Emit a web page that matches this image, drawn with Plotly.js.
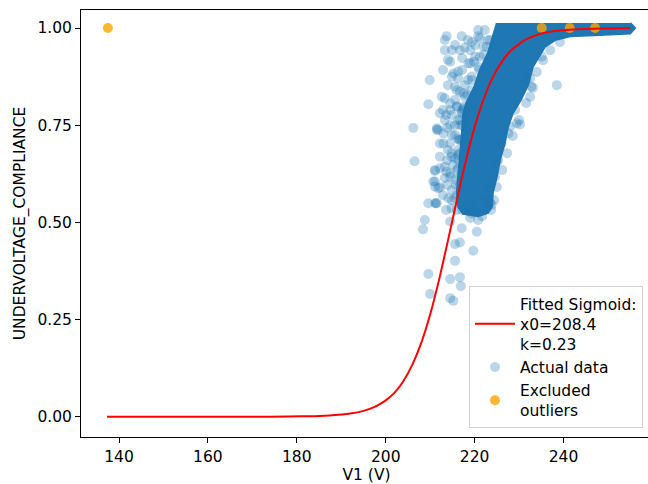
<!DOCTYPE html>
<html>
<head>
<meta charset="utf-8">
<script src="https://cdn.plot.ly/plotly-3.0.1.min.js"></script>
<style>html,body{margin:0;padding:0;overflow:hidden;background:#fff;}#chart{width:660px;height:484px;}</style>
</head>
<body>
<div id="chart"></div>
<script>
// Fitted sigmoid curve
const sigmoidX = [137.3, 150, 160, 170, 178, 184, 188, 192, 195, 198, 200, 202, 204, 206, 208, 210, 212, 214, 216, 218, 220, 222, 224, 226, 228, 231, 234, 238, 243, 249, 255];
const sigmoidY = [0, 0, 0, 0.0001, 0.0004, 0.0015, 0.0035, 0.008, 0.015, 0.028, 0.042, 0.062, 0.092, 0.134, 0.190, 0.263, 0.352, 0.453, 0.557, 0.657, 0.745, 0.816, 0.871, 0.911, 0.940, 0.967, 0.982, 0.992, 0.997, 0.999, 1.0];

// Outline of the saturated dense cloud of actual data
const coreX = [225.0, 224.1, 223.0, 221.2, 219.9, 218.1, 217.4, 217.2, 216.9, 216.7, 216.3, 216.0, 216.3, 217.4, 220.8, 223.0, 223.9, 224.1, 225.0, 225.7, 226.8, 227.5, 228.6, 230.4, 232.0, 233.1, 234.3, 235.8, 238.1, 241.5, 248.2, 255.0, 256.1, 255.0];
const coreY = [1.013, 0.977, 0.936, 0.892, 0.848, 0.807, 0.776, 0.738, 0.699, 0.660, 0.617, 0.576, 0.540, 0.522, 0.516, 0.524, 0.540, 0.576, 0.617, 0.660, 0.704, 0.745, 0.781, 0.815, 0.853, 0.900, 0.923, 0.951, 0.969, 0.979, 0.982, 0.986, 1.000, 1.013];

// Individually visible actual data points
const actualX = [213.7, 213.3, 217.1, 220.8, 209.9, 209.6, 206.2, 206.5, 238.5, 230.2, 213.3, 214.9, 216.3, 219.0, 221.2, 222.7, 216.0, 217.5, 216.0, 217.5,
  211.8, 213.0, 212.2, 214.8, 211.1, 210.7, 212.2, 213.3, 214.5, 216.7, 216.7, 216.3, 216.7, 232.5, 232.8, 232.5, 235.1, 228.0, 229.1, 231.7,
  225.0, 223.1, 215.6, 217.5, 209.6, 211.1, 208.8, 208.4, 214.5, 217.1, 219.3, 220.8, 220.5, 215.6, 216.7, 219.7, 215.6, 209.6, 214.5, 216.7,
  216.9, 210.0, 214.5, 215.2, 223.5, 211.1, 211.3, 211.5,
  223.0, 222.1, 221.0, 219.4, 218.3, 217.4, 216.7, 216.5, 216.3, 216.0, 215.8, 215.6, 216.0, 219.0, 221.7,
  239.2, 237.0, 235.4, 234.0, 233.1, 231.6, 230.0, 228.6, 227.3, 226.2, 225.0, 224.4, 223.7,
  214.0, 214.9, 220.1, 219.0, 213.6, 214.5, 214.9, 214.0, 213.8, 214.9, 213.3, 215.6, 214.5, 212.2, 218.5, 216.7, 220.8, 222.3,
  215.2, 216.3, 218.6, 220.1, 222.0, 223.5, 217.8, 219.3, 220.8, 212.6, 214.5, 216.0, 217.8, 219.3, 216.7, 215.6, 219.3, 217.1,
  211.5, 213.0, 212.2, 214.5, 216.3, 216.7, 214.8, 211.1, 212.2, 213.7, 214.5, 211.1, 211.8, 216.3, 217.8, 218.2, 216.3, 217.1,
  214.1, 211.5, 214.8, 222.3, 223.8, 220.1, 229.5, 227.6, 226.1, 225.3, 224.6,
  213.3, 215.6, 217.8, 219.4, 221.2, 214.5, 217.2, 219.9, 212.9, 214.0, 217.2, 218.5, 212.9, 214.9, 215.6, 213.8, 217.2, 215.6,
  213.8, 215.2, 217.2, 216.3, 213.3, 215.6, 216.7, 212.9, 214.9, 216.0, 217.2, 218.5, 213.6, 219.4];
const actualY = [0.979, 0.969, 0.979, 0.979, 0.866, 0.804, 0.743, 0.657, 0.853, 0.752, 0.819, 0.875, 0.888, 0.909, 0.926, 0.952, 0.840, 0.832, 0.798, 0.798,
  0.738, 0.703, 0.669, 0.669, 0.632, 0.605, 0.590, 0.643, 0.626, 0.763, 0.712, 0.660, 0.617, 0.871, 0.849, 0.823, 0.926, 0.746, 0.789, 0.866,
  0.656, 0.592, 0.665, 0.793, 0.549, 0.549, 0.506, 0.482, 0.502, 0.485, 0.523, 0.506, 0.476, 0.444, 0.448, 0.427, 0.401, 0.367, 0.354, 0.359,
  0.336, 0.316, 0.305, 0.298, 0.551, 0.592, 0.549, 0.742,
  0.969, 0.931, 0.892, 0.866, 0.828, 0.789, 0.750, 0.712, 0.673, 0.634, 0.596, 0.562, 0.532, 0.511, 0.516,
  0.964, 0.943, 0.917, 0.887, 0.846, 0.807, 0.763, 0.722, 0.678, 0.635, 0.591, 0.557, 0.532,
  0.918, 0.943, 0.956, 0.943, 0.776, 0.750, 0.725, 0.686, 0.596, 0.583, 0.763, 0.815, 0.789, 0.781, 0.969, 0.943, 0.995, 0.995,
  0.883, 0.871, 0.909, 0.926, 0.952, 0.969, 0.853, 0.875, 0.900, 0.823, 0.806, 0.798, 0.823, 0.840, 0.836, 0.849, 0.798, 0.785,
  0.738, 0.729, 0.703, 0.703, 0.716, 0.678, 0.678, 0.635, 0.639, 0.630, 0.617, 0.605, 0.588, 0.639, 0.699, 0.738, 0.763, 0.781,
  0.562, 0.549, 0.536, 0.557, 0.545, 0.532, 0.755, 0.729, 0.703, 0.660, 0.617,
  0.943, 0.956, 0.949, 0.964, 0.974, 0.913, 0.923, 0.913, 0.892, 0.853, 0.892, 0.866, 0.789, 0.776, 0.750, 0.743, 0.750, 0.725,
  0.660, 0.648, 0.712, 0.686, 0.614, 0.609, 0.596, 0.570, 0.557, 0.570, 0.532, 0.545, 0.532, 0.545];

// Excluded outliers
const outlierX = [137.5, 235.1, 241.4, 247.1];
const outlierY = [1.0, 1.0, 1.0, 1.0];

const yTicks = [0, 0.25, 0.5, 0.75, 1.0];
const xTicks = [140, 160, 180, 200, 220, 240];

const FONT = 'DejaVu Sans, sans-serif';
const FS = 15.5;

const traces = [
  {x: coreX, y: coreY, type: 'scatter', mode: 'lines', fill: 'toself', fillcolor: 'rgb(31,119,180)',
   line: {width: 2, color: 'rgb(31,119,180)'}, showlegend: false, hoverinfo: 'skip'},
  {x: actualX, y: actualY, type: 'scatter', mode: 'markers', name: 'Actual data', legendrank: 2, legendgroup: 'b',
   marker: {size: 10, color: 'rgba(31,119,180,0.3)', line: {width: 0}}},
  {x: outlierX, y: outlierY, type: 'scatter', mode: 'markers', name: 'Excluded<br>outliers', legendrank: 3, legendgroup: 'c',
   marker: {size: 10, color: 'rgba(255,165,0,0.8)', line: {width: 0}}},
  {x: sigmoidX, y: sigmoidY, type: 'scatter', mode: 'lines', name: 'Fitted Sigmoid:<br>x0=208.4<br>k=0.23', legendrank: 1, legendgroup: 'a',
   line: {color: 'red', width: 2, shape: 'spline', smoothing: 0.5}}
];

const layout = {
  width: 660, height: 484,
  margin: {l: 81, r: 8, t: 10, b: 47},
  paper_bgcolor: 'white', plot_bgcolor: 'white',
  font: {family: FONT, size: FS, color: '#000'},
  showlegend: true,
  legend: {x: 0.6795, y: 0.021, xanchor: 'left', yanchor: 'bottom', bgcolor: 'rgba(255,255,255,0.8)',
           bordercolor: '#d0d0d0', borderwidth: 1, font: {family: FONT, size: FS, color: '#000'},
           traceorder: 'grouped', tracegroupgap: 0, itemwidth: 40},
  xaxis: {range: [131.45, 259.91], tickvals: xTicks, ticktext: xTicks.map(String), ticks: 'outside', ticklen: 5,
          tickcolor: '#000', showgrid: false, zeroline: false, showline: true, mirror: true, linecolor: '#000', linewidth: 1,
          tickfont: {family: FONT, size: FS, color: '#000'},
          title: {text: 'V1 (V)', font: {family: FONT, size: FS, color: '#000'}, standoff: 19}},
  yaxis: {range: [-0.0522, 1.0463], tickvals: yTicks, ticktext: yTicks.map(v => v.toFixed(2)), ticks: 'outside', ticklen: 5,
          tickcolor: '#000', showgrid: false, zeroline: false, showline: true, mirror: true, linecolor: '#000', linewidth: 1,
          tickfont: {family: FONT, size: FS, color: '#000'},
          title: {text: 'UNDERVOLTAGE_COMPLIANCE', font: {family: FONT, size: FS, color: '#000'}, standoff: 7}}
};

Plotly.newPlot('chart', traces, layout, {displayModeBar: false, staticPlot: true});
</script>
</body>
</html>
